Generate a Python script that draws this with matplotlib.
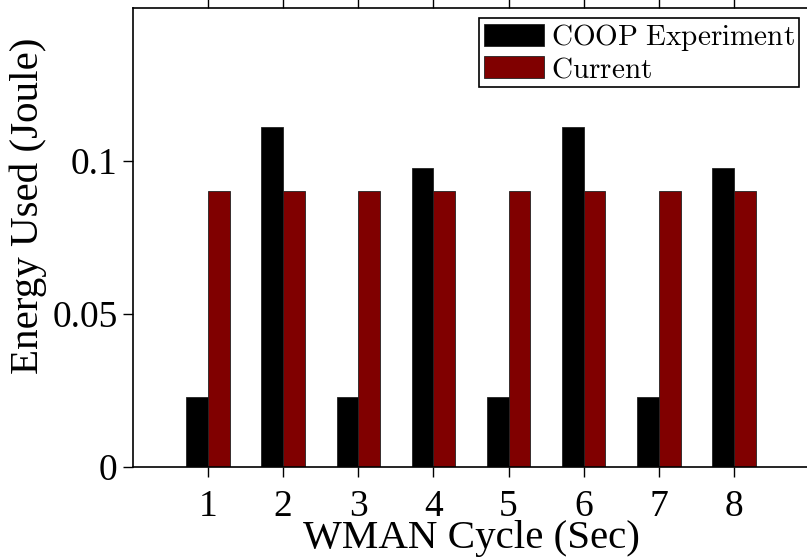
import matplotlib
matplotlib.use("Agg")
import matplotlib.pyplot as plt
import numpy as np

cycles = [1, 2, 3, 4, 5, 6, 7, 8]
coop_experiment = [0.0228, 0.111, 0.0228, 0.0976, 0.0228, 0.111, 0.0228, 0.0976]
current = [0.09, 0.09, 0.09, 0.09, 0.09, 0.09, 0.09, 0.09]

plt.rcParams['font.family'] = ['Liberation Serif', 'DejaVu Serif']
plt.rcParams['mathtext.fontset'] = 'cm'

fig = plt.figure(figsize=(8.07, 5.58), dpi=100)
# axes runs slightly past the right edge of the figure
ax = fig.add_axes([133 / 807, 91 / 558, 676 / 807, 459.5 / 558])

x = np.array(cycles)
w = 0.29
ax.bar(x - w / 2, coop_experiment, w, color="black", edgecolor="#222222",
       linewidth=0.6, label=r"$\mathrm{COOP\ Experiment}$")
ax.bar(x + w / 2, current, w, color="#800000", edgecolor="#222222",
       linewidth=0.6, label=r"$\mathrm{Current}$")

ax.set_xlim(0, 9)
ax.set_ylim(0, 0.15)
ax.set_xticks(cycles)
ax.set_yticks([0, 0.05, 0.1])
ax.set_yticklabels(["0", "0.05", "0.1"])
ax.tick_params(axis="both", direction="out", length=7, width=1, labelsize=27,
               colors="black", top=True, pad=4)
ax.tick_params(axis="x", pad=9)
for s in ax.spines.values():
    s.set_linewidth(1.2)

ax.set_xlabel("WMAN Cycle (Sec)", fontsize=29.5, labelpad=-3)
fig.text(28 / 807, 1 - 206 / 558, "Energy Used (Joule)", fontsize=29.5,
         rotation=90, ha="center", va="center")

leg = ax.legend(loc="upper right", bbox_to_anchor=(799 / 807, 1 - 18 / 558),
                bbox_transform=fig.transFigure, fontsize=21, frameon=True,
                fancybox=False, edgecolor="black", framealpha=1,
                handlelength=2.05, handleheight=0.8, handletextpad=0.25,
                borderpad=0.15, labelspacing=0.08, borderaxespad=0)
leg.get_frame().set_linewidth(1.2)

fig.savefig("out.png", dpi=100)
